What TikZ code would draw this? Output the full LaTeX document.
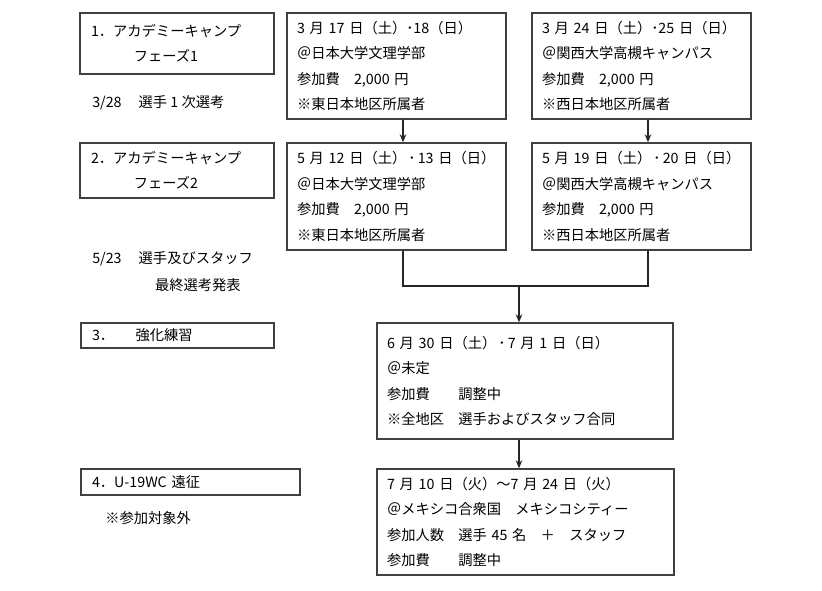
\documentclass[tikz,border=0pt]{standalone}
\usepackage{fontspec}
\setmainfont{Noto Sans CJK JP}
\usetikzlibrary{arrows.meta}
\newdimen\unitpx
\unitpx=0.75pt

\begin{document}
\begin{tikzpicture}[x=0.75pt, y=-0.75pt,
    box/.style={draw=black!75, line width=1.1pt, align=left, inner xsep=10\unitpx, inner ysep=0pt,
        font=\fontsize{10.7pt}{19.1pt}\selectfont},
    stage/.style={box, inner xsep=11\unitpx},
    note/.style={anchor=west, align=left, inner sep=0pt, font=\fontsize{10.7pt}{19.1pt}\selectfont},
    arr/.style={-{Stealth[length=6pt,width=5pt]}, draw=black!85, line width=0.8pt},
    link/.style={draw=black!85, line width=0.8pt}]
    \useasboundingbox (0,0) rectangle (822,591);

    % stages on the left
    \node[stage, text width=172\unitpx, minimum height=61\unitpx] (phase1) at (177,43.5)
        {1．アカデミーキャンプ\\\hspace*{3em}フェーズ1};
    \node[stage, text width=172\unitpx, minimum height=55\unitpx] (phase2) at (177,170.5)
        {2．アカデミーキャンプ\\\hspace*{3em}フェーズ2};
    \node[stage, text width=171\unitpx, minimum height=25\unitpx] (phase3) at (177.5,335.5)
        {3．\hspace{1.5em}強化練習};
    \node[stage, text width=197\unitpx, minimum height=26\unitpx] (phase4) at (190.5,482)
        {4．U-19WC 遠征};

    \node[note] (sel1) at (92,103) {3/28\hspace{1.2em}選手 1 次選考};
    \node[note] (sel2) at (92,271.5) {5/23\hspace{1.2em}選手及びスタッフ\\[1.5pt]\hspace*{4.4em}最終選考発表};
    \node[note] (out4) at (105,518) {※参加対象外};

    % camps
    \node[box, text width=199\unitpx, minimum height=106\unitpx] (eastA) at (396.5,66)
        {3 月 17 日（土）･18（日）\\＠日本大学文理学部\\参加費　2,000 円\\※東日本地区所属者};
    \node[box, text width=199\unitpx, minimum height=106\unitpx] (westA) at (641.5,66)
        {3 月 24 日（土）･25 日（日）\\＠関西大学高槻キャンパス\\参加費　2,000 円\\※西日本地区所属者};
    \node[box, text width=199\unitpx, minimum height=107\unitpx] (eastB) at (396.5,196.5)
        {\mbox{5 月 12 日（土）\hspace{0.15em}･\hspace{0.15em}13 日（日）}\\＠日本大学文理学部\\参加費　2,000 円\\※東日本地区所属者};
    \node[box, text width=199\unitpx, minimum height=107\unitpx] (westB) at (641.5,196.5)
        {\mbox{5 月 19 日（土）\hspace{0.15em}･\hspace{0.15em}20 日（日）}\\＠関西大学高槻キャンパス\\参加費　2,000 円\\※西日本地区所属者};
    \node[box, text width=276\unitpx, minimum height=116\unitpx] (joint) at (525,381)
        {6 月 30 日（土）\hspace{0.15em}･\hspace{0.15em}7 月 1 日（日）\\＠未定\\参加費　　調整中\\※全地区　選手およびスタッフ合同};
    \node[box, text width=277\unitpx, minimum height=106\unitpx] (expedition) at (525.5,522)
        {7 月 10 日（火）～7 月 24 日（火）\\＠メキシコ合衆国　メキシコシティー\\参加人数　選手 45 名　＋　スタッフ\\参加費　　調整中};

    \coordinate (merge) at (519,286);
    \draw[arr] ([xshift=6.5\unitpx]eastA.south) -- ([xshift=6.5\unitpx]eastB.north);
    \draw[arr] ([xshift=6.5\unitpx]westA.south) -- ([xshift=6.5\unitpx]westB.north);
    \draw[link] ([xshift=6.5\unitpx]eastB.south) |- (merge) -| ([xshift=6.5\unitpx]westB.south);
    \draw[arr] (merge) -- (merge |- joint.north);
    \draw[arr] (joint.south -| merge) -- (expedition.north -| merge);
\end{tikzpicture}
\end{document}
